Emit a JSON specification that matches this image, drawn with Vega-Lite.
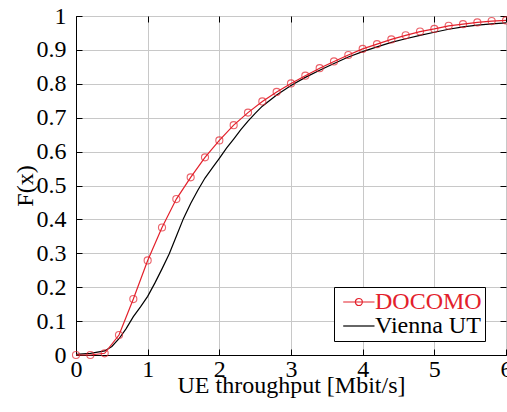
{
  "$schema": "https://vega.github.io/schema/vega-lite/v6.json",
  "width": 430,
  "height": 339,
  "autosize": "none",
  "padding": {"left": 76, "top": 16, "right": 1, "bottom": 57},
  "background": "white",
  "data": {"values": [
    {"series": "Vienna UT", "x": 0, "y": 0.002},
    {"series": "Vienna UT", "x": 0.2, "y": 0.005},
    {"series": "Vienna UT", "x": 0.4, "y": 0.012},
    {"series": "Vienna UT", "x": 0.5, "y": 0.025},
    {"series": "Vienna UT", "x": 0.6, "y": 0.048},
    {"series": "Vienna UT", "x": 0.7, "y": 0.078},
    {"series": "Vienna UT", "x": 0.8, "y": 0.113},
    {"series": "Vienna UT", "x": 0.9, "y": 0.142},
    {"series": "Vienna UT", "x": 1.0, "y": 0.173},
    {"series": "Vienna UT", "x": 1.1, "y": 0.212},
    {"series": "Vienna UT", "x": 1.2, "y": 0.254},
    {"series": "Vienna UT", "x": 1.3, "y": 0.298},
    {"series": "Vienna UT", "x": 1.4, "y": 0.35},
    {"series": "Vienna UT", "x": 1.5, "y": 0.403},
    {"series": "Vienna UT", "x": 1.6, "y": 0.447},
    {"series": "Vienna UT", "x": 1.7, "y": 0.486},
    {"series": "Vienna UT", "x": 1.8, "y": 0.522},
    {"series": "Vienna UT", "x": 1.9, "y": 0.551},
    {"series": "Vienna UT", "x": 2.0, "y": 0.58},
    {"series": "Vienna UT", "x": 2.1, "y": 0.61},
    {"series": "Vienna UT", "x": 2.2, "y": 0.637},
    {"series": "Vienna UT", "x": 2.3, "y": 0.665},
    {"series": "Vienna UT", "x": 2.4, "y": 0.69},
    {"series": "Vienna UT", "x": 2.5, "y": 0.713},
    {"series": "Vienna UT", "x": 2.6, "y": 0.734},
    {"series": "Vienna UT", "x": 2.8, "y": 0.767},
    {"series": "Vienna UT", "x": 3.0, "y": 0.795},
    {"series": "Vienna UT", "x": 3.2, "y": 0.819},
    {"series": "Vienna UT", "x": 3.4, "y": 0.84},
    {"series": "Vienna UT", "x": 3.6, "y": 0.86},
    {"series": "Vienna UT", "x": 3.8, "y": 0.879},
    {"series": "Vienna UT", "x": 4.0, "y": 0.895},
    {"series": "Vienna UT", "x": 4.2, "y": 0.909},
    {"series": "Vienna UT", "x": 4.4, "y": 0.922},
    {"series": "Vienna UT", "x": 4.6, "y": 0.933},
    {"series": "Vienna UT", "x": 4.8, "y": 0.943},
    {"series": "Vienna UT", "x": 5.0, "y": 0.952},
    {"series": "Vienna UT", "x": 5.2, "y": 0.961},
    {"series": "Vienna UT", "x": 5.4, "y": 0.968},
    {"series": "Vienna UT", "x": 5.6, "y": 0.973},
    {"series": "Vienna UT", "x": 5.8, "y": 0.977},
    {"series": "Vienna UT", "x": 6.0, "y": 0.98},
    {"series": "DOCOMO", "x": 0, "y": 0},
    {"series": "DOCOMO", "x": 0.2, "y": 0},
    {"series": "DOCOMO", "x": 0.4, "y": 0.005},
    {"series": "DOCOMO", "x": 0.6, "y": 0.059},
    {"series": "DOCOMO", "x": 0.8, "y": 0.165},
    {"series": "DOCOMO", "x": 1.0, "y": 0.279},
    {"series": "DOCOMO", "x": 1.2, "y": 0.376},
    {"series": "DOCOMO", "x": 1.4, "y": 0.46},
    {"series": "DOCOMO", "x": 1.6, "y": 0.524},
    {"series": "DOCOMO", "x": 1.8, "y": 0.583},
    {"series": "DOCOMO", "x": 2.0, "y": 0.633},
    {"series": "DOCOMO", "x": 2.2, "y": 0.678},
    {"series": "DOCOMO", "x": 2.4, "y": 0.715},
    {"series": "DOCOMO", "x": 2.6, "y": 0.748},
    {"series": "DOCOMO", "x": 2.8, "y": 0.776},
    {"series": "DOCOMO", "x": 3.0, "y": 0.801},
    {"series": "DOCOMO", "x": 3.2, "y": 0.824},
    {"series": "DOCOMO", "x": 3.4, "y": 0.846},
    {"series": "DOCOMO", "x": 3.6, "y": 0.866},
    {"series": "DOCOMO", "x": 3.8, "y": 0.885},
    {"series": "DOCOMO", "x": 4.0, "y": 0.903},
    {"series": "DOCOMO", "x": 4.2, "y": 0.917},
    {"series": "DOCOMO", "x": 4.4, "y": 0.931},
    {"series": "DOCOMO", "x": 4.6, "y": 0.943},
    {"series": "DOCOMO", "x": 4.8, "y": 0.954},
    {"series": "DOCOMO", "x": 5.0, "y": 0.962},
    {"series": "DOCOMO", "x": 5.2, "y": 0.971},
    {"series": "DOCOMO", "x": 5.4, "y": 0.976},
    {"series": "DOCOMO", "x": 5.6, "y": 0.981},
    {"series": "DOCOMO", "x": 5.8, "y": 0.985},
    {"series": "DOCOMO", "x": 6.0, "y": 0.987}
  ]},
  "layer": [
    {
      "transform": [{"filter": "datum.series === 'Vienna UT'"}],
      "mark": {"type": "line", "strokeWidth": 1.2, "clip": false},
      "encoding": {
        "x": {"field": "x", "type": "quantitative",
              "scale": {"domain": [0, 6], "nice": false, "zero": false},
              "axis": {"orient": "bottom", "values": [0, 1, 2, 3, 4, 5, 6], "title": "UE throughput [Mbit/s]",
                       "grid": true, "tickSize": -6, "labelPadding": 8, "titleY": 37, "titleBaseline": "alphabetic",
                       "labelFlush": false}},
        "y": {"field": "y", "type": "quantitative",
              "scale": {"domain": [0, 1], "nice": false},
              "axis": {"orient": "left", "values": [0, 0.1, 0.2, 0.3, 0.4, 0.5, 0.6, 0.7, 0.8, 0.9, 1], "format": "~g",
                       "title": "F(x)", "grid": true, "tickSize": -6, "labelPadding": 16, "titleX": -44,
                       "titleBaseline": "alphabetic", "labelFlush": false}},
        "color": {"field": "series", "type": "nominal",
                  "scale": {"domain": ["DOCOMO", "Vienna UT"], "range": ["#e3202b", "#000000"]},
                  "legend": {
                    "title": null, "orient": "none", "legendX": 258, "legendY": 271,
                    "strokeColor": "black", "fillColor": "white", "padding": 3,
                    "labelFont": "Liberation Serif, Times New Roman, serif", "labelFontSize": 24, "labelLimit": 300,
                    "labelOffset": 14, "rowPadding": -2, "symbolSize": 441, "symbolStrokeWidth": 1.2,
                    "symbolType": "stroke", "cornerRadius": 0,
                    "encode": {
                      "symbols": {"update": {
                        "shape": {"signal": "datum.value === 'DOCOMO' ? 'M-0.552,0H2.429M0.605,0A0.333,0.333 0 1,0 1.271,0A0.333,0.333 0 1,0 0.605,0' : 'M-0.552,0H2.429'"},
                        "fill": {"value": "transparent"}}},
                      "labels": {"update": {"fill": {"signal": "datum.value === 'DOCOMO' ? '#e3202b' : '#000000'"}}}
                    }
                  }}
      }
    },
    {
      "transform": [{"filter": "datum.series === 'DOCOMO'"}],
      "mark": {"type": "line", "strokeWidth": 1.2, "clip": false},
      "encoding": {
        "x": {"field": "x", "type": "quantitative", "axis": null},
        "y": {"field": "y", "type": "quantitative", "axis": null},
        "color": {"field": "series", "type": "nominal"}
      }
    },
    {
      "transform": [{"filter": "datum.series === 'DOCOMO'"}],
      "mark": {"type": "point", "shape": "circle", "filled": false, "size": 50, "strokeWidth": 1.1, "clip": false},
      "encoding": {
        "x": {"field": "x", "type": "quantitative",
              "axis": {"orient": "top", "values": [0, 1, 2, 3, 4, 5, 6], "labels": false, "title": null, "grid": false,
                       "tickSize": -6, "domain": false}},
        "y": {"field": "y", "type": "quantitative",
              "axis": {"orient": "right", "values": [0, 0.1, 0.2, 0.3, 0.4, 0.5, 0.6, 0.7, 0.8, 0.9, 1], "labels": false,
                       "title": null, "grid": false, "tickSize": -6, "domain": false}},
        "color": {"field": "series", "type": "nominal"}
      }
    }
  ],
  "resolve": {"axis": {"x": "independent", "y": "independent"}},
  "config": {
    "font": "Liberation Serif, Times New Roman, serif",
    "view": {"stroke": "black", "strokeWidth": 1},
    "axis": {
      "labelFont": "Liberation Serif, Times New Roman, serif", "labelFontSize": 24, "labelColor": "black",
      "titleFont": "Liberation Serif, Times New Roman, serif", "titleFontSize": 24, "titleFontWeight": "normal", "titleColor": "black",
      "tickColor": "black", "tickWidth": 1, "domainColor": "black", "domainWidth": 1,
      "gridColor": "#c8c8c8", "gridWidth": 1, "gridOpacity": 1
    },
    "legend": {"labelFont": "Liberation Serif, Times New Roman, serif"}
  }
}
